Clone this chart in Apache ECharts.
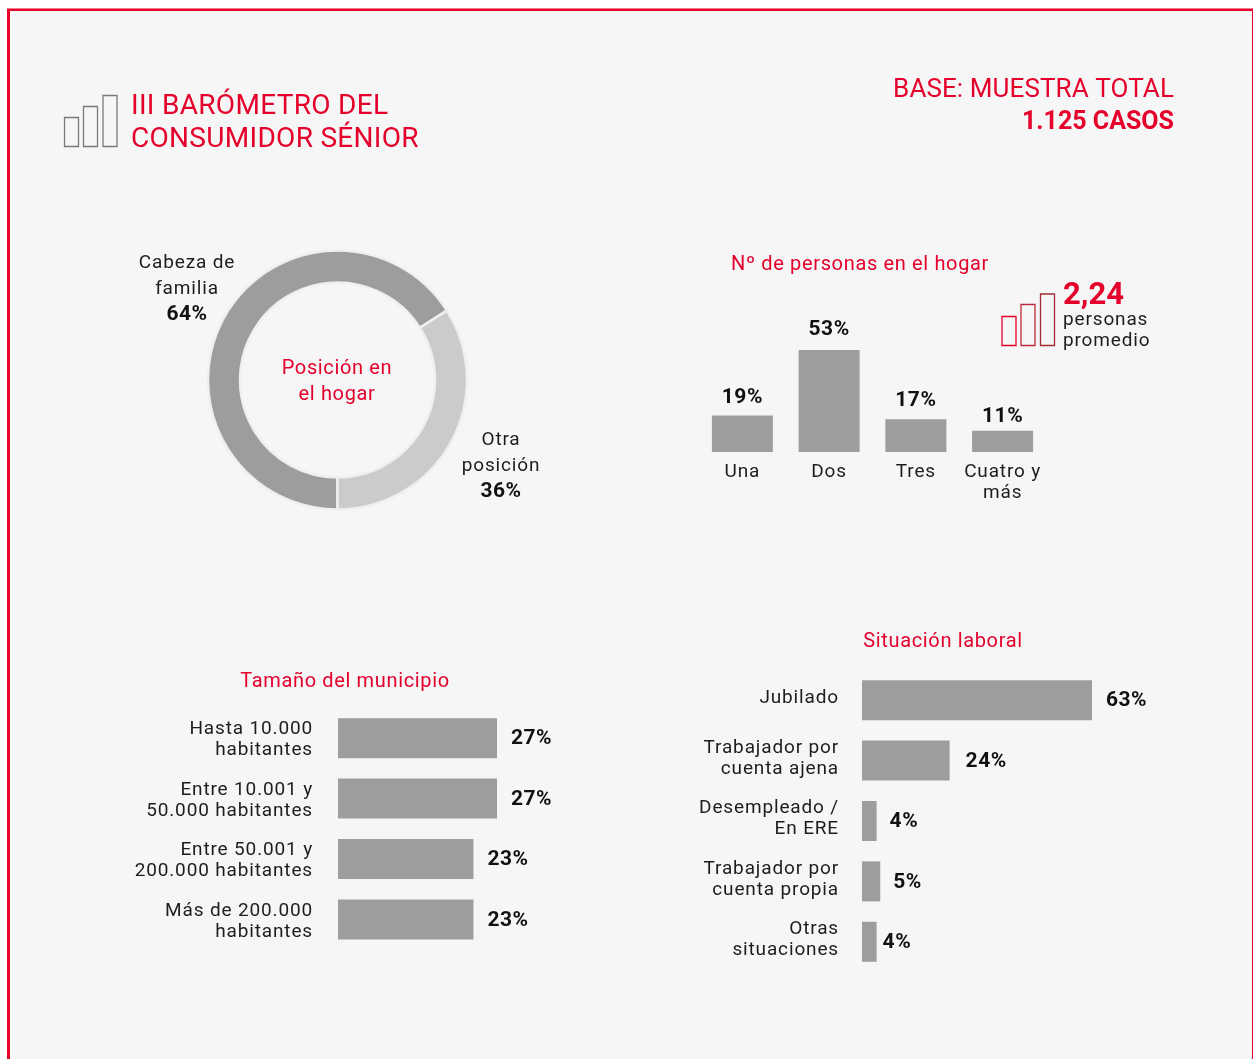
<!DOCTYPE html>
<html><head><meta charset="utf-8">
<script src="https://cdn.jsdelivr.net/npm/echarts@6/dist/echarts.min.js"></script>
<style>html,body{margin:0;padding:0;background:#fff}#c{width:1253px;height:1059px}</style>
</head><body><div id="c"></div>
<script>
// Printed percentages of the donut.
const donutNames = ['Cabeza de\nfamilia', 'Otra\nposición'];
const donutLabels = [64, 36];
// The reference's arcs are not drawn to its printed figures: the split reads as about 66/34.
const donutArcs = [66, 34];
const hogarCats = ['Una', 'Dos', 'Tres', 'Cuatro y\nmás'];
const hogarValues = [19, 53, 17, 11];
const municipioCats = ['Hasta 10.000\nhabitantes', 'Entre 10.001 y\n50.000 habitantes', 'Entre 50.001 y\n200.000 habitantes', 'Más de 200.000\nhabitantes'];
const municipioValues = [27, 27, 23, 23];
const laboralCats = ['Jubilado', 'Trabajador por\ncuenta ajena', 'Desempleado /\nEn ERE', 'Trabajador por\ncuenta propia', 'Otras\nsituaciones'];
const laboralValues = [63, 24, 4, 5, 4];

const FONT = 'Roboto';
const RED = '#e4002b', INK = '#1d1d1b', BAR = '#9d9d9c', LIGHT = '#cbcbcb';

// The reference's typeface is tracked wider than Roboto: add canvas letter spacing by font.
const tracking = { 'n19': 0.85, 'n20': 0.65, 'n26': 0.1, 'n28': 0.3, 'b21': 0.5 };
const fillTextBase = CanvasRenderingContext2D.prototype.fillText;
CanvasRenderingContext2D.prototype.fillText = function (...args) {
  const m = /(\d+)px/.exec(this.font);
  const key = (/bold|700/.test(this.font) ? 'b' : 'n') + (m ? m[1] : '');
  this.letterSpacing = (tracking[key] || 0) + 'px';
  return fillTextBase.apply(this, args);
};

const txt = (x, y, text, size, fill, align = 'left', weight = 'normal', lh) => ({
  type: 'text', x, y, silent: true,
  style: { text, fontFamily: FONT, fontSize: size, fontWeight: weight, fill, align, verticalAlign: 'middle', lineHeight: lh || size * 1.2 }
});
const box = (x, y, w, h, stroke) => ({
  type: 'rect', silent: true, shape: { x, y, width: w, height: h },
  style: { fill: 'none', stroke, lineWidth: 1.3 }
});
const solid = (x, y, w, h, fill, z) => ({
  type: 'rect', silent: true, z: z, shape: { x, y, width: w, height: h }, style: { fill }
});
const valueLabel = { fontFamily: FONT, fontSize: 21, fontWeight: 'bold', color: '#111', formatter: '{c}%' };
const catLabel = { fontFamily: FONT, fontSize: 19, color: INK, lineHeight: 21 };

const hBar = (i, vals, dists) => ({
  type: 'bar', xAxisIndex: i, yAxisIndex: i, barWidth: 40, silent: true,
  itemStyle: { color: BAR },
  data: vals.map((v, k) => ({ value: v, label: { distance: dists[k] } })),
  label: { show: true, position: 'right', offset: [0, 1], ...valueLabel }
});
const barAxis = (grid, cats) => ({ gridIndex: grid, type: 'category', inverse: true, data: cats, show: false });
// Label-only axes on grids nudged vertically from the bar grids, as the reference's text sits off the bar centres.
const labelAxis = (grid, cats, margin) => ({ gridIndex: grid, type: 'category', inverse: true, data: cats,
  axisLine: { show: false }, axisTick: { show: false }, axisLabel: { ...catLabel, margin, interval: 0 } });

const chart = echarts.init(document.getElementById('c'), null, { renderer: 'canvas' });
chart.setOption({
  animation: false,
  backgroundColor: '#ffffff',
  grid: [
    { left: 699, top: 350, width: 347, height: 102 },
    { left: 338, top: 708, width: 159, height: 241.6 },
    { left: 862, top: 670, width: 230, height: 302 },
    { left: 338, top: 710, width: 159, height: 241.6 },
    { left: 862, top: 668, width: 230, height: 302 }
  ],
  xAxis: [
    { gridIndex: 0, type: 'category', data: hogarCats, axisLine: { show: false }, axisTick: { show: false },
      axisLabel: { ...catLabel, margin: 10, interval: 0, verticalAlign: 'top' } },
    { gridIndex: 1, type: 'value', min: 0, max: 27, show: false },
    { gridIndex: 2, type: 'value', min: 0, max: 63, show: false },
    { gridIndex: 3, type: 'value', show: false },
    { gridIndex: 4, type: 'value', show: false }
  ],
  yAxis: [
    { gridIndex: 0, type: 'value', min: 0, max: 53, show: false },
    barAxis(1, municipioCats),
    barAxis(2, laboralCats),
    labelAxis(3, municipioCats, 25),
    labelAxis(4, laboralCats, 23)
  ],
  series: [
    { type: 'pie', center: [337.5, 380], radius: [97.5, 129.5], startAngle: 270, clockwise: true, silent: true,
      itemStyle: { borderColor: '#efefef', borderWidth: 2.5 },
      data: donutNames.map((n, i) => ({ name: n, value: donutArcs[i], itemStyle: { color: i ? LIGHT : BAR } })),
      label: { show: true, position: 'outside', fontFamily: FONT, fontSize: 19, color: INK, lineHeight: 25.5, align: 'center',
        formatter: p => p.name + '\n{b|' + donutLabels[p.dataIndex] + '%}',
        rich: { b: { fontFamily: FONT, fontSize: 21, fontWeight: 'bold', color: '#111', lineHeight: 25.5 } } },
      labelLine: { show: false },
      labelLayout: p => p.dataIndex === 0 ? { x: 187, y: 289, align: 'center', verticalAlign: 'middle' } : { x: 501, y: 466, align: 'center', verticalAlign: 'middle' }
    },
    { type: 'bar', xAxisIndex: 0, yAxisIndex: 0, barWidth: 61, silent: true, itemStyle: { color: BAR },
      data: hogarValues.map((v, k) => ({ value: v, label: { distance: [7, 10, 8, 4][k] } })),
      label: { show: true, position: 'top', ...valueLabel } },
    hBar(1, municipioValues, [14, 14, 14, 14]),
    hBar(2, laboralValues, [14, 16, 13, 13, 6])
  ],
  graphic: [
    solid(10, 11, 1242, 1048, '#f6f6f6', -10),
    solid(7, 8, 1246, 1, '#f27a90', -9),
    solid(7, 9, 1246, 2, '#e6002a', -9),
    solid(7, 9, 3, 1050, '#e6002a', -9),
    solid(1252, 9, 1, 1050, '#e6002a', -9),
    box(64.5, 117.5, 14, 29, '#7a7a7a'), box(83.5, 106.5, 14, 40, '#7a7a7a'), box(103, 95.5, 14, 51, '#7a7a7a'),
    box(1002, 316.5, 14, 29, '#e4002b'), box(1021, 304.5, 14, 41, '#c0283c'), box(1040.5, 294, 14, 51.5, '#a32a33'),
    txt(131, 107, 'III BARÓMETRO DEL', 28, RED),
    txt(131, 140, 'CONSUMIDOR SÉNIOR', 28, RED),
    txt(1174, 90, 'BASE: MUESTRA TOTAL', 26, RED, 'right'),
    txt(1174, 123, '1.125 CASOS', 25, RED, 'right', 'bold'),
    txt(337, 382, 'Posición en\nel hogar', 20, RED, 'center', 'normal', 25.5),
    txt(860, 265, 'Nº de personas en el hogar', 20, RED, 'center'),
    txt(345, 682, 'Tamaño del municipio', 20, RED, 'center'),
    txt(943, 642, 'Situación laboral', 20, RED, 'center'),
    txt(1063, 296, '2,24', 31, RED, 'left', 'bold'),
    txt(1063, 331, 'personas\npromedio', 19, INK, 'left', 'normal', 21)
  ]
});
</script></body></html>
